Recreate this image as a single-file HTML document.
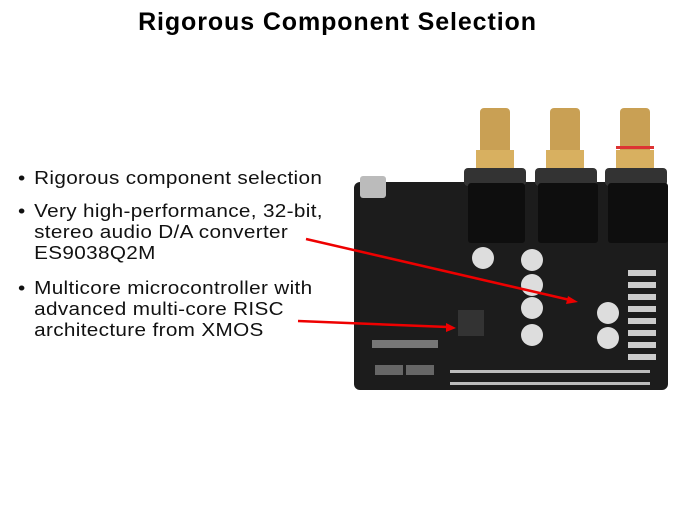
<!DOCTYPE html>
<html><head><style>
body{margin:0;width:675px;height:506px;background:#fff;position:relative;overflow:hidden;font-family:"Liberation Sans",sans-serif}
.t{position:absolute;left:0;width:675px;top:7px;text-align:center;font-weight:bold;font-size:25px;letter-spacing:0.9px;color:#000;line-height:30px}
.b{position:absolute;left:18px;font-size:18px;line-height:21px;color:#111;letter-spacing:0.3px;white-space:nowrap;transform:scaleX(1.15);transform-origin:0 0}
.b span{position:absolute;left:0}
.b div{margin-left:14px}
.a{position:absolute}
</style></head><body>
<div class="t">Rigorous Component Selection</div>
<div class="b" style="top:168px"><span>•</span><div>Rigorous component selection</div></div>
<div class="b" style="top:201px"><span>•</span><div>Very high-performance, 32-bit,<br>stereo audio D/A converter<br>ES9038Q2M</div></div>
<div class="b" style="top:278px"><span>•</span><div>Multicore microcontroller with<br>advanced multi-core RISC<br>architecture from XMOS</div></div>
<svg class="a" style="left:0;top:0" width="675" height="506">
<rect x="354" y="182" width="314" height="208" rx="6" fill="#1c1c1c"/>
<rect x="360" y="176" width="26" height="22" rx="3" fill="#bbb"/>
<g>
<rect x="480" y="108" width="30" height="50" rx="4" fill="#c9a054"/>
<rect x="476" y="150" width="38" height="20" fill="#d8b060"/>
<rect x="464" y="168" width="62" height="18" rx="4" fill="#333"/>
<rect x="468" y="183" width="57" height="60" rx="3" fill="#0e0e0e"/>
<rect x="550" y="108" width="30" height="50" rx="4" fill="#c9a054"/>
<rect x="546" y="150" width="38" height="20" fill="#d8b060"/>
<rect x="535" y="168" width="62" height="18" rx="4" fill="#333"/>
<rect x="538" y="183" width="60" height="60" rx="3" fill="#0e0e0e"/>
<rect x="620" y="108" width="30" height="50" rx="4" fill="#c9a054"/>
<rect x="616" y="150" width="38" height="20" fill="#d8b060"/>
<rect x="616" y="146" width="38" height="3" fill="#d33"/>
<rect x="605" y="168" width="62" height="18" rx="4" fill="#333"/>
<rect x="608" y="183" width="60" height="60" rx="3" fill="#0e0e0e"/>
</g>
<g fill="#ddd">
<circle cx="483" cy="258" r="11"/><circle cx="532" cy="260" r="11"/><circle cx="532" cy="285" r="11"/>
<circle cx="532" cy="308" r="11"/><circle cx="532" cy="335" r="11"/><circle cx="608" cy="313" r="11"/><circle cx="608" cy="338" r="11"/>
</g>
<rect x="458" y="310" width="26" height="26" fill="#333"/>
<rect x="372" y="340" width="66" height="8" fill="#777"/>
<rect x="375" y="365" width="28" height="10" fill="#666"/>
<rect x="406" y="365" width="28" height="10" fill="#666"/>
<g fill="#ccc">
<rect x="628" y="270" width="28" height="6"/><rect x="628" y="282" width="28" height="6"/><rect x="628" y="294" width="28" height="6"/>
<rect x="628" y="306" width="28" height="6"/><rect x="628" y="318" width="28" height="6"/><rect x="628" y="330" width="28" height="6"/>
<rect x="628" y="342" width="28" height="6"/><rect x="628" y="354" width="28" height="6"/>
</g>
<g fill="#bbb">
<rect x="450" y="370" width="200" height="3"/><rect x="450" y="382" width="200" height="3"/>
</g>
<line x1="306" y1="239" x2="570" y2="300" stroke="#e00" stroke-width="2.5"/>
<polygon points="578,302 568,296 566,304" fill="#e00"/>
<line x1="298" y1="321" x2="448" y2="327" stroke="#e00" stroke-width="2.5"/>
<polygon points="456,328 446,323 446,332" fill="#e00"/>
</svg>
</body></html>
